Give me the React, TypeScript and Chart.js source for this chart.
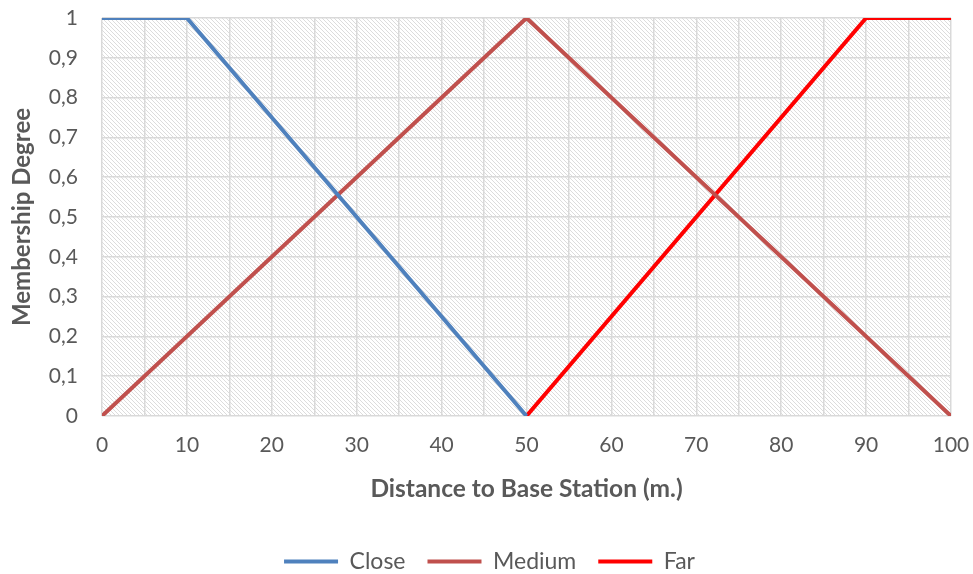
import React, { useEffect, useRef } from "react";
import { Chart, registerables } from "chart.js";

Chart.register(...registerables);

const closeX = [0, 10, 50];
const closeY = [1, 1, 0];
const mediumX = [0, 50, 100];
const mediumY = [0, 1, 0];
const farX = [50, 90, 100];
const farY = [0, 1, 1];

const seriesNames = ["Close", "Medium", "Far"];
const seriesColors = ["#4F81BD", "#C0504D", "#FF0000"];

const xTitle = "Distance to Base Station (m.)";
const yTitle = "Membership Degree";

const FONT = "Lato, 'Open Sans', sans-serif";

function toPoints(xs: number[], ys: number[]) {
  return xs.map((x, i) => ({ x, y: ys[i] }));
}

const hatchPlugin = {
  id: "hatch",
  beforeDraw(chart: any) {
    const { ctx, chartArea } = chart;
    if (!chartArea) return;
    const tile = document.createElement("canvas");
    tile.width = 4;
    tile.height = 4;
    const tctx = tile.getContext("2d")!;
    tctx.fillStyle = "#ffffff";
    tctx.fillRect(0, 0, 4, 4);
    tctx.fillStyle = "#dcdcdc";
    for (let i = 0; i < 4; i++) tctx.fillRect(i, i, 1, 1);
    const pat = ctx.createPattern(tile, "repeat");
    ctx.save();
    ctx.fillStyle = pat;
    ctx.fillRect(chartArea.left, chartArea.top, chartArea.right - chartArea.left, chartArea.bottom - chartArea.top);
    ctx.restore();
  },
};

export default function App() {
  const ref = useRef<HTMLCanvasElement>(null);
  useEffect(() => {
    document.body.style.margin = "0";
    const datasets = [
      toPoints(closeX, closeY),
      toPoints(mediumX, mediumY),
      toPoints(farX, farY),
    ].map((d, i) => ({
      label: seriesNames[i],
      data: d,
      borderColor: seriesColors[i],
      backgroundColor: seriesColors[i],
      borderWidth: 4,
      pointRadius: 0,
      tension: 0,
      fill: false,
    }));
    const chart = new Chart(ref.current!, {
      type: "line",
      data: { datasets },
      plugins: [hatchPlugin],
      options: {
        responsive: false,
        animation: false,
        layout: { padding: { left: 0, right: -6, top: 18, bottom: -9 } },
        scales: {
          x: {
            type: "linear",
            min: 0,
            max: 100,
            ticks: {
              stepSize: 5,
              autoSkip: false,
              maxRotation: 0,
              padding: 17,
              color: "#595959",
              font: { family: FONT, size: 21 },
              callback: (v: any) => (Number(v) % 10 === 0 ? String(v) : ""),
            },
            grid: { color: "#d9d9d9", lineWidth: 1.5, drawTicks: false },
            border: { display: false },
            title: {
              display: true,
              text: xTitle,
              color: "#595959",
              font: { family: FONT, size: 24.5, weight: "bold" },
              padding: { top: 0, bottom: 24 },
            },
            afterFit: (s: any) => {
              s.height = 112;
              s.paddingLeft = 0;
              s.paddingRight = 22;
            },
          },
          y: {
            type: "linear",
            min: 0,
            max: 1,
            ticks: {
              stepSize: 0.1,
              padding: 24,
              color: "#595959",
              font: { family: FONT, size: 21 },
              callback: (v: any) => {
                const n = Math.round(Number(v) * 10) / 10;
                return String(n).replace(".", ",");
              },
            },
            grid: { color: "#d9d9d9", lineWidth: 1.5, drawTicks: false },
            border: { display: false },
            title: {
              display: true,
              text: yTitle,
              color: "#595959",
              font: { family: FONT, size: 24, weight: "bold" },
              padding: { top: 8, bottom: 0 },
            },
            afterFit: (s: any) => {
              s.width = 102;
              s.paddingTop = 0;
              s.paddingBottom = 0;
            },
          },
        },
        plugins: {
          legend: {
            position: "bottom",
            labels: {
              boxWidth: 54,
              boxHeight: 4,
              padding: 22,
              color: "#595959",
              font: { family: FONT, size: 23 },
              generateLabels: (c: any) =>
                c.data.datasets.map((d: any, i: number) => ({
                  text: d.label,
                  fillStyle: d.borderColor,
                  strokeStyle: d.borderColor,
                  lineWidth: 0,
                  datasetIndex: i,
                  fontColor: "#595959",
                })),
            },
          },
          tooltip: { enabled: false },
        },
      },
    } as any);
    return () => chart.destroy();
  }, []);
  return (
    <div style={{ position: "absolute", left: 0, top: 0, width: 973, height: 574 }}>
      <canvas ref={ref} width={973} height={574} style={{ width: 973, height: 574 }} />
    </div>
  );
}
